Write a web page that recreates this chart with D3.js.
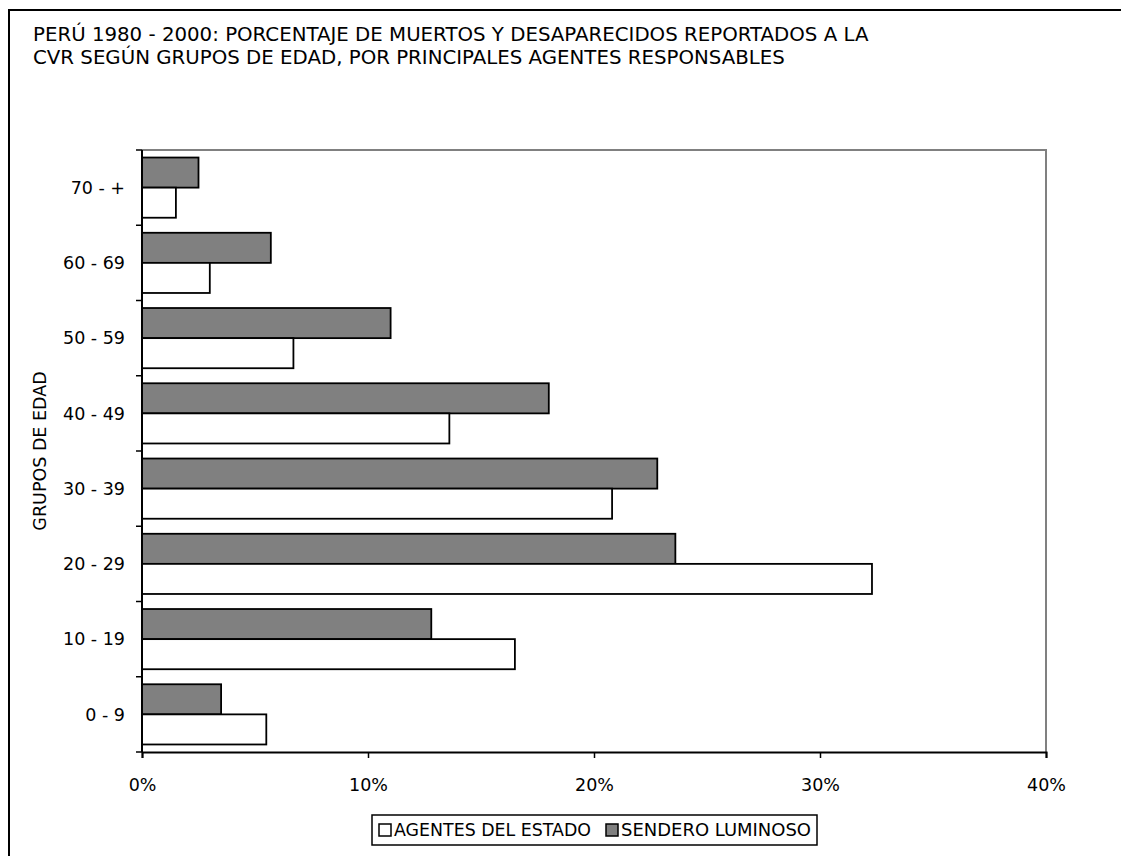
<!DOCTYPE html>
<html>
<head>
<meta charset="utf-8">
<script src="https://cdn.jsdelivr.net/npm/d3@7"></script>
<style>
  body { margin: 0; background: #fff; }
  text { font-family: "DejaVu Sans", sans-serif; fill: #000; }
  .axis_label { font-size: 17.5px; }
  .title { font-size: 18px; }
</style>
</head>
<body>
<script>
//Data (percent)
var categories = ["0 - 9", "10 - 19", "20 - 29", "30 - 39", "40 - 49", "50 - 59", "60 - 69", "70 - +"];
var agentes = [5.5, 16.5, 32.3, 20.8, 13.6, 6.7, 3.0, 1.5];
var sendero = [3.5, 12.8, 23.6, 22.8, 18.0, 11.0, 5.7, 2.5];
var seriesNames = ["AGENTES DEL ESTADO", "SENDERO LUMINOSO"];
var xTicks = [0, 10, 20, 30, 40];
var titleLines = [
  "PERÚ 1980 - 2000: PORCENTAJE DE MUERTOS Y DESAPARECIDOS REPORTADOS A LA",
  "CVR SEGÚN GRUPOS DE EDAD, POR PRINCIPALES AGENTES RESPONSABLES"
];

var margin = {top: 150, bottom: 104, left: 142, right: 75};
var fullWidth = 1121, fullHeight = 856;
var width = fullWidth - margin.left - margin.right;
var height = fullHeight - margin.top - margin.bottom;

var svg = d3.select("body")
            .append("svg")
            .attr("width", fullWidth)
            .attr("height", fullHeight);

//outer frame (runs off the right and bottom edge)
svg.append("rect")
   .attr("x", 9).attr("y", 10)
   .attr("width", fullWidth).attr("height", fullHeight)
   .attr("fill", "#fff")
   .attr("stroke", "#000")
   .attr("stroke-width", 2);

//Title - size the font so line 1 is as wide as in the original (about 836px)
var titles = svg.selectAll("text.title")
   .data(titleLines)
   .enter()
   .append("text")
   .attr("class", "title")
   .attr("x", 33)
   .attr("y", function(d, i) { return 41 + i * 23; })
   .text(function(d) { return d; });

var natural = titles.nodes()[0].getComputedTextLength();
titles.style("font-size", (18 * 836 / natural) + "px");

var g = svg.append("g")
           .attr("transform", "translate(" + margin.left + "," + margin.top + ")");

//X scale
var xScale = d3.scaleLinear()
               .domain([0, 40])
               .range([0, width]);

//Y scale (categories, bottom to top)
var yScale = d3.scaleBand()
               .domain(categories.slice().reverse())
               .range([0, height])
               .paddingInner(0.2)
               .paddingOuter(0.1);

var subScale = d3.scaleBand()
                 .domain(["sendero", "agentes"])
                 .range([0, yScale.bandwidth()]);

//top and right border in gray
g.append("path")
 .attr("d", "M0,0H" + width + "V" + height)
 .attr("fill", "none")
 .attr("stroke", "#808080")
 .attr("stroke-width", 2);

//bars
var rows = categories.map(function(c, i) {
  return {cat: c, agentes: agentes[i], sendero: sendero[i]};
});

var groups = g.selectAll("g.row")
              .data(rows)
              .enter()
              .append("g")
              .attr("class", "row")
              .attr("transform", function(d) { return "translate(0," + yScale(d.cat) + ")"; });

groups.append("rect")
      .attr("x", 0)
      .attr("y", subScale("sendero"))
      .attr("width", function(d) { return xScale(d.sendero); })
      .attr("height", subScale.bandwidth())
      .attr("fill", "#808080")
      .attr("stroke", "#000")
      .attr("stroke-width", 1.8);

groups.append("rect")
      .attr("x", 0)
      .attr("y", subScale("agentes"))
      .attr("width", function(d) { return xScale(d.agentes); })
      .attr("height", subScale.bandwidth())
      .attr("fill", "#fff")
      .attr("stroke", "#000")
      .attr("stroke-width", 1.8);

//Y axis: ticks at category boundaries
var step = yScale.step();
var boundaries = d3.range(categories.length + 1).map(function(i) { return i * step; });

g.append("line")
 .attr("x1", 0).attr("x2", 0)
 .attr("y1", 0).attr("y2", height)
 .attr("stroke", "#000").attr("stroke-width", 2);

g.selectAll("line.ytick")
 .data(boundaries)
 .enter()
 .append("line")
 .attr("class", "ytick")
 .attr("x1", -6).attr("x2", 0)
 .attr("y1", function(d) { return d; })
 .attr("y2", function(d) { return d; })
 .attr("stroke", "#000").attr("stroke-width", 1.5);

g.selectAll("text.ylab")
 .data(categories)
 .enter()
 .append("text")
 .attr("class", "axis_label ylab")
 .attr("x", -17)
 .attr("y", function(d) { return yScale(d) + yScale.bandwidth() / 2; })
 .attr("dy", "0.35em")
 .attr("text-anchor", "end")
 .text(function(d) { return d; });

//X axis
var xAxis = d3.axisBottom()
              .scale(xScale)
              .tickValues(xTicks)
              .tickSize(6)
              .tickFormat(function(d) { return d + "%"; });

var xg = g.append("g")
          .attr("transform", "translate(0," + height + ")")
          .call(xAxis);
xg.attr("font-family", null).attr("font-size", null);
xg.select(".domain").attr("stroke", "#000").attr("stroke-width", 2);
xg.selectAll(".tick line").attr("stroke", "#000").attr("stroke-width", 1.5);
xg.selectAll(".tick text")
  .attr("class", "axis_label")
  .attr("y", 27);

//Y axis title
svg.append("text")
   .attr("class", "axis_label")
   .text("GRUPOS DE EDAD")
   .attr("transform", "translate(40," + (margin.top + height / 2) + ") rotate(270)")
   .attr("dy", "0.35em")
   .attr("text-anchor", "middle");

//Legend
var legend = svg.append("g").attr("transform", "translate(372,815)");
legend.append("rect")
      .attr("width", 445).attr("height", 30)
      .attr("fill", "#fff").attr("stroke", "#000").attr("stroke-width", 1.5);

var legendX = [7, 234];
var legendTextW = [197, 190];
var legendFill = ["#fff", "#808080"];
seriesNames.forEach(function(name, i) {
  legend.append("rect")
        .attr("x", legendX[i]).attr("y", 9)
        .attr("width", 12).attr("height", 12)
        .attr("fill", legendFill[i]).attr("stroke", "#000").attr("stroke-width", 1.5);
  legend.append("text")
        .attr("class", "axis_label")
        .attr("x", legendX[i] + 15).attr("y", 15)
        .attr("dy", "0.35em")
        .attr("textLength", legendTextW[i])
        .attr("lengthAdjust", "spacingAndGlyphs")
        .text(name);
});
</script>
</body>
</html>
